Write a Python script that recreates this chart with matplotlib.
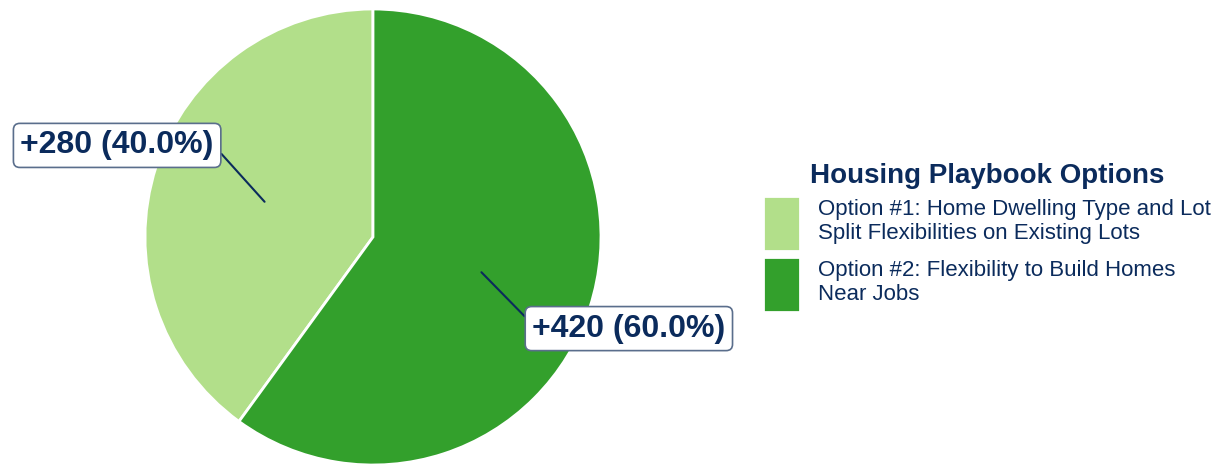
import numpy as np
import matplotlib.pyplot as plt

plt.rcParams['font.family'] = ['Liberation Sans', 'DejaVu Sans']

# Data
options = ['Option #1: Home Dwelling Type and Lot\nSplit Flexibilities on Existing Lots',
           'Option #2: Flexibility to Build Homes\nNear Jobs']
homes = [280, 420]
colors = ['#b2df8a', '#33a02c']
navy = '#0b2b5c'

fig = plt.figure(figsize=(12.29, 4.66), dpi=100)
ax = fig.add_axes([145 / 1229, 1 / 466, 456 / 1229, 456 / 466])

wedges, _ = ax.pie(homes, colors=colors, startangle=90, counterclock=True,
                   wedgeprops=dict(edgecolor='white', linewidth=2))
ax.set_xlim(-1, 1)
ax.set_ylim(-1, 1)
ax.set_aspect('equal')

total = sum(homes)
for w, v in zip(wedges, homes):
    mid = np.deg2rad((w.theta1 + w.theta2) / 2)
    x, y = np.cos(mid), np.sin(mid)
    # line leaves the box from the side facing the pie
    relpos = (1, 0.5) if x < 0 else (0, 0.65)
    ax.annotate(f'+{v} ({v / total * 100:.1f}%)',
                xy=(0.5 * x, 0.5 * y), xytext=(1.18 * x, 1.3 * y),
                ha='center', va='center', fontsize=23, fontweight='bold',
                color=navy, annotation_clip=False,
                bbox=dict(boxstyle='round,pad=0.22,rounding_size=0.2',
                          fc='white', ec='#5a6e8c', lw=1.2),
                arrowprops=dict(arrowstyle='-', color=navy, lw=1.5,
                                relpos=relpos, shrinkA=0, shrinkB=0))

leg = fig.legend(wedges, options, loc='center left',
                 bbox_to_anchor=(763 / 1229, 0.49), frameon=False,
                 title='Housing Playbook Options', fontsize=16,
                 title_fontproperties={'size': 20, 'weight': 'bold'},
                 handlelength=1.67, handleheight=3.4, labelspacing=0.3,
                 handletextpad=0.8, borderpad=0, borderaxespad=0)
leg.get_title().set_color(navy)
for t in leg.get_texts():
    t.set_color(navy)

fig.savefig('out.png', dpi=100)
